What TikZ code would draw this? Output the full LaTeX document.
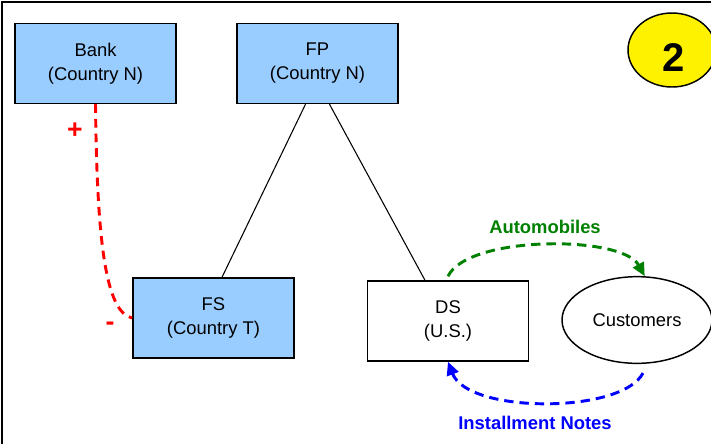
\documentclass[tikz,border=0pt]{standalone}
\usepackage{fontspec}
\setmainfont{Liberation Sans}
\usetikzlibrary{arrows.meta, shapes.geometric}
\definecolor{boxblue}{HTML}{99CCFF}
\colorlet{flowgreen}{green!50!black}
\colorlet{flowblue}{blue}
\colorlet{flowred}{red}
\newcommand{\chartfont}{\fontsize{13.8}{18}\selectfont}

\begin{document}
\begin{tikzpicture}[x=0.75pt, y=-0.75pt, >={Triangle[length=10pt, width=9pt]}, font=\chartfont,
    entity/.style={draw=black, line width=1.1pt, minimum width=121pt, minimum height=60pt, align=center, inner sep=0pt},
    flowline/.style={line width=2.2pt, dash pattern=on 7pt off 4.5pt}]
    \clip (0,0) rectangle (711,444);

    % Outer frame
    \draw[line width=1.6pt] (2,444) -- (2,2) -- (711,2);

    % Companies
    \node[entity, fill=boxblue] (bank) at (95.5,63.5) {Bank\\(Country N)};
    \node[entity, fill=boxblue] (fp) at (317.5,63.5) {FP\\(Country N)};
    \node[entity, fill=boxblue] (fs) at (213.5,318) {FS\\(Country T)};
    \node[entity] (ds) at (448,321) {DS\\(U.S.)};
    \node[ellipse, draw=black, line width=1.1pt, minimum width=112.5pt, minimum height=65pt, inner sep=0pt] (cust) at (637,320) {Customers};

    % Ownership lines
    \draw[line width=0.8pt] (fp.south) ++(-12,0) coordinate (fpl) (fpl) -- (fs.north -| 222,0);
    \draw[line width=0.8pt] (fp.south) ++(12,0) coordinate (fpr) (fpr) -- (ds.north -| 425,0);

    % Loan from the bank
    \draw[flowred, line width=2.2pt, dash pattern=on 6.5pt off 4.5pt] (bank.south) .. controls (97,245) and (106,312) .. (fs.west);
    \node[text=flowred, font=\fontsize{20}{24}\selectfont\bfseries] (plus) at (75,131) {+};
    \node[text=flowred, font=\fontsize{20}{24}\selectfont\bfseries] (minus) at (110,326) {-};

    % Sale and payment
    \draw[flowgreen, flowline, ->] ([yshift=3pt]ds.north) .. controls (468,235) and (622,235) .. (cust.80);
    \node[text=flowgreen, font=\chartfont\bfseries] (autolbl) at (545,227) {Automobiles};
    \draw[flowblue, flowline, ->] ([shift={(6,9)}]cust.south) .. controls (622,414) and (468,414) .. (ds.south);
    \node[text=flowblue, font=\chartfont\bfseries] (notelbl) at (535,423) {Installment Notes};

    % Badge
    \node[ellipse, draw=black, line width=1.1pt, fill=yellow, minimum width=66pt, minimum height=55.5pt] (badge) at (672,50) {};
    \node[font=\fontsize{30}{36}\selectfont\bfseries] (badgenum) at (673.5,57.5) {2};
\end{tikzpicture}
\end{document}
